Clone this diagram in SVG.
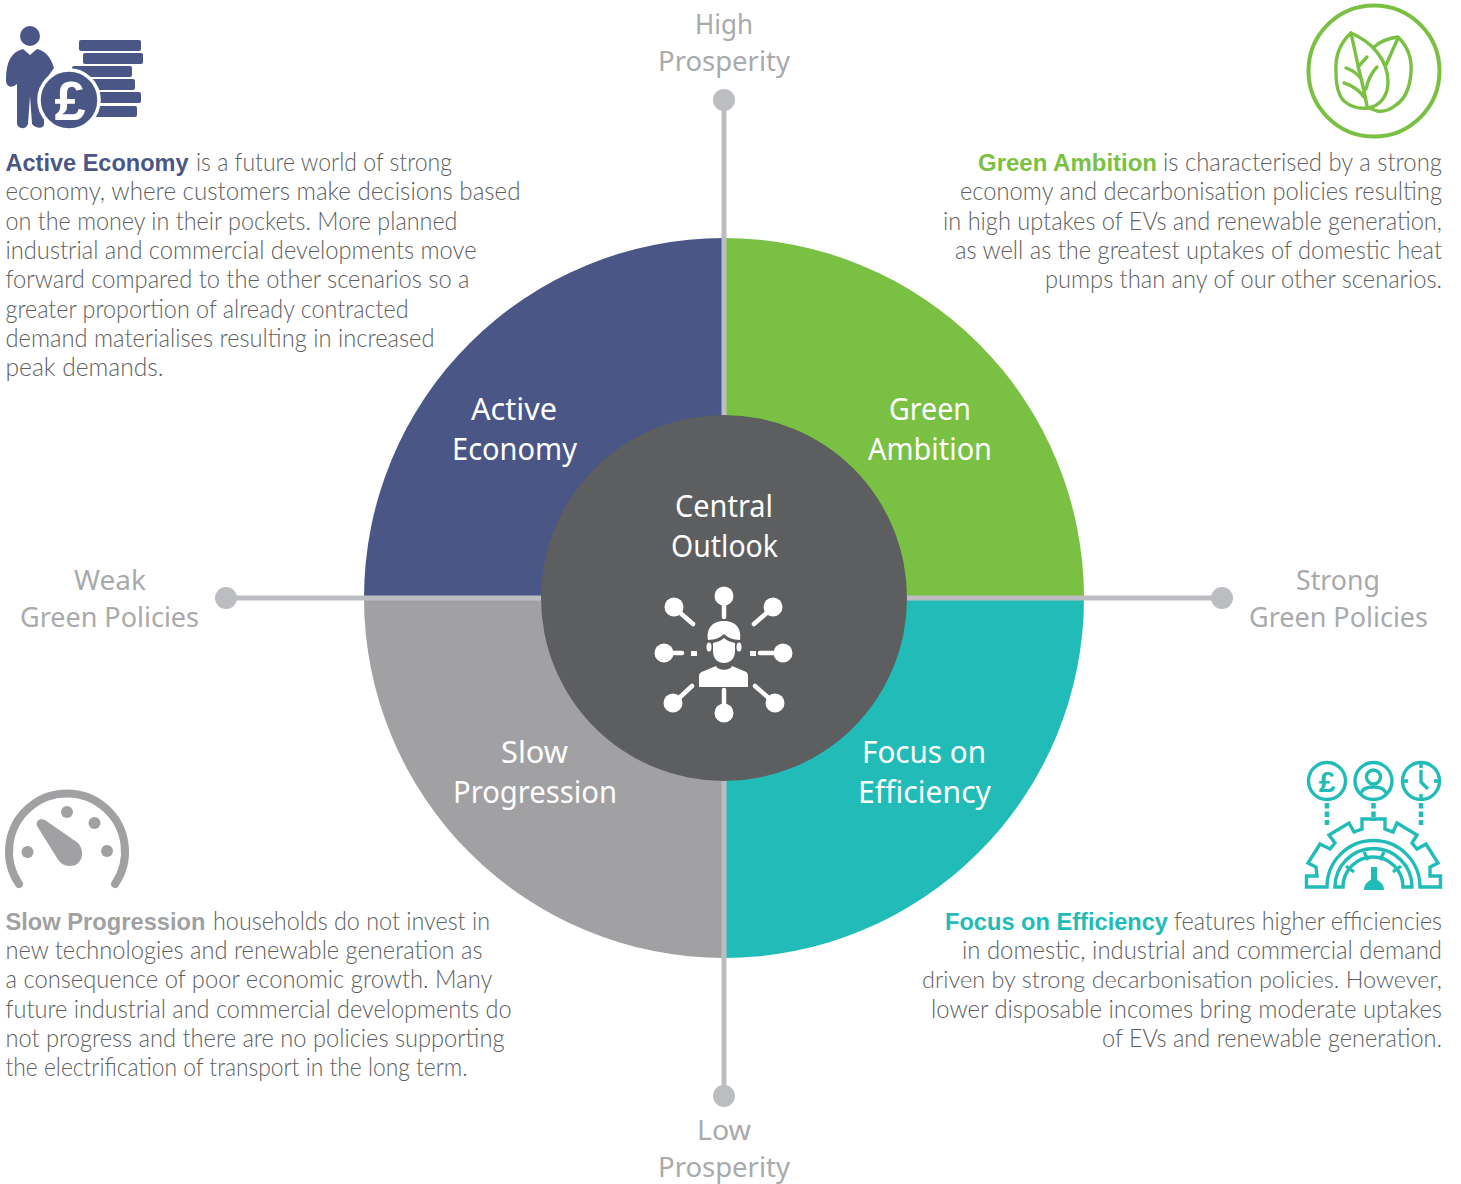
<svg xmlns="http://www.w3.org/2000/svg" width="1461" height="1184" viewBox="0 0 1461 1184">
<style>
.b{font-family:"Lato","Liberation Sans",sans-serif;font-weight:300;font-size:24.5px;fill:#5e5f61}
.h{font-family:"Liberation Sans",Arial,sans-serif;font-weight:700;font-size:24px}
.l{font-family:"Noto Sans","Open Sans",sans-serif;font-size:31px;fill:#fff;font-weight:400}
.a{font-family:"Noto Sans","Open Sans",sans-serif;font-size:28px;fill:#a9aaac;font-weight:400}
.ax{stroke:#bcbdc0;stroke-width:5;fill:none}
.dot{fill:#bcbdc0}
.w{fill:#fff;stroke:none}
.wl{stroke:#fff;stroke-width:4.5;stroke-linecap:round;fill:none}
.t{fill:none;stroke:#21bcb8;stroke-width:3.4}
.g{fill:none;stroke:#7ac143;stroke-linecap:round;stroke-linejoin:round}
</style>
<g id="quadrants">
<g id="active-economy"><path d="M364 598A360 360 0 0 1 724 238V598Z" fill="#4a5686"/>
<text class="l" x="471" y="420" textLength="86" lengthAdjust="spacingAndGlyphs">Active</text><text class="l" x="452" y="460" textLength="125" lengthAdjust="spacingAndGlyphs">Economy</text></g>
<g id="green-ambition"><path d="M724 238A360 360 0 0 1 1084 598H724Z" fill="#7ac143"/>
<text class="l" x="889" y="420" textLength="82" lengthAdjust="spacingAndGlyphs">Green</text><text class="l" x="868" y="460" textLength="124" lengthAdjust="spacingAndGlyphs">Ambition</text></g>
<g id="slow-progression"><path d="M364 598H724V958A360 360 0 0 1 364 598Z" fill="#a1a1a3"/>
<text class="l" x="501" y="763" textLength="67" lengthAdjust="spacingAndGlyphs">Slow</text><text class="l" x="453" y="803" textLength="164" lengthAdjust="spacingAndGlyphs">Progression</text></g>
<g id="focus-on-efficiency"><path d="M724 598H1084A360 360 0 0 1 724 958Z" fill="#21bcb8"/>
<text class="l" x="862" y="763" textLength="124" lengthAdjust="spacingAndGlyphs">Focus on</text><text class="l" x="858" y="803" textLength="133" lengthAdjust="spacingAndGlyphs">Efficiency</text></g>
</g>
<g id="connectors">
<path class="ax" d="M724 100V1096M226 598H1222"/>
<circle class="dot" cx="724" cy="100" r="11"/><circle class="dot" cx="724" cy="1096" r="11"/><circle class="dot" cx="226" cy="598" r="11"/><circle class="dot" cx="1222" cy="598" r="11"/>
</g>
<g id="central-outlook">
<circle cx="724" cy="598" r="183" fill="#5d5e60"/>
<text class="l" x="675" y="517" textLength="98" lengthAdjust="spacingAndGlyphs">Central</text><text class="l" x="671" y="557" textLength="107" lengthAdjust="spacingAndGlyphs">Outlook</text>
<g>
<circle class="w" cx="724" cy="596" r="9.5"/><circle class="w" cx="674" cy="607" r="9.5"/><circle class="w" cx="773" cy="607" r="9.5"/><circle class="w" cx="664" cy="653" r="9.5"/><circle class="w" cx="783" cy="653" r="9.5"/><circle class="w" cx="673" cy="703" r="9.5"/><circle class="w" cx="775" cy="703" r="9.5"/><circle class="w" cx="724" cy="713" r="9.5"/>
<path class="wl" d="M724 600V617M678 611L693 624M769 611L754 624M668 653H682M779 653H760M677 700L692 686M771 700L755 686M724 708V690"/>
<rect class="w" x="691" y="651" width="6" height="5"/><rect class="w" x="750" y="651" width="6" height="5"/>
<path class="w" d="M708 640C706 628 713 621 724 621C735 621 742 628 740 640C733 640 727 637 724 634C721 637 715 640 708 640Z"/>
<path class="w" d="M713 643C718 642 722 640 724 638C726 640 730 642 735 643V651C735 659 730 663 724 663C718 663 713 659 713 651Z"/>
<ellipse class="w" cx="709" cy="647" rx="2.500" ry="4.500"/><ellipse class="w" cx="739" cy="647" rx="2.500" ry="4.500"/>
<path class="w" d="M699 687V677C699 673 701 672 704 671L716 666C718 671 730 671 732 666L744 671C747 672 748 673 748 677V687Z"/>
</g>
</g>
<g id="axis-labels">
<text class="a" x="695" y="34" textLength="58" lengthAdjust="spacingAndGlyphs">High</text><text class="a" x="658" y="71" textLength="132" lengthAdjust="spacingAndGlyphs">Prosperity</text>
<text class="a" x="697" y="1140" textLength="54" lengthAdjust="spacingAndGlyphs">Low</text><text class="a" x="658" y="1177" textLength="132" lengthAdjust="spacingAndGlyphs">Prosperity</text>
<text class="a" x="74" y="590" textLength="72" lengthAdjust="spacingAndGlyphs">Weak</text><text class="a" x="20" y="627" textLength="179" lengthAdjust="spacingAndGlyphs">Green Policies</text>
<text class="a" x="1296" y="590" textLength="84" lengthAdjust="spacingAndGlyphs">Strong</text><text class="a" x="1249" y="627" textLength="179" lengthAdjust="spacingAndGlyphs">Green Policies</text>
</g>
<g id="icon-active" fill="#4a5686">
<circle cx="30" cy="36" r="10"/>
<rect x="79" y="40" width="62" height="11" rx="2"/><rect x="83" y="53" width="60" height="11" rx="2"/><rect x="72" y="66" width="60" height="11" rx="2"/><rect x="90" y="79" width="45" height="11" rx="2"/><rect x="95" y="92" width="46" height="11" rx="2"/><rect x="90" y="106" width="47" height="11" rx="2"/>
<path d="M23 49L30 55L37 49C46 51 51 58 54 68L44 82V124C44 129 36 129 32 124L30 96L28 124C26 130 18 129 17 124V84L14 86C9 88 6 85 6 80C6 62 11 52 23 49Z"/>
<circle cx="69" cy="100" r="30" stroke="#fff" stroke-width="3.5"/>
<text x="70" y="120" text-anchor="middle" font-family="Liberation Sans,sans-serif" font-weight="700" font-size="56" fill="#fff">£</text>
</g>
<g id="icon-green">
<circle class="g" cx="1374" cy="71" r="65.500" stroke-width="4"/>
<g class="g" stroke-width="3.400">
<path d="M1351 33C1339 44 1335 58 1336 72C1336 84 1338 95 1344 101C1351 107 1360 109 1368 108C1380 106 1388 96 1388 82C1388 60 1372 42 1351 33Z"/>
<path d="M1374 47C1381 41 1389 38 1398 37C1408 47 1412 60 1411 72C1410 88 1405 99 1396 105C1390 110 1383 112 1377 111L1369 108"/>
<path d="M1398 38L1386 65M1351 33L1359 70C1362 82 1365 95 1367 106M1367 57L1358 67M1377 67C1372 72 1368 80 1366 89M1346 68C1352 70 1358 74 1362 80M1344 83C1352 85 1360 91 1364 97"/>
</g>
</g>
<g id="icon-efficiency">
<g class="t">
<circle cx="1327" cy="781" r="18.500"/><circle cx="1373.500" cy="781" r="18.500"/><circle cx="1421" cy="781" r="18.500"/>
<circle cx="1373.500" cy="777" r="7"/><path d="M1361 793C1364 785 1383 785 1386 793"/>
<path d="M1421 764V768M1421 794V798M1404 781H1408M1434 781H1438M1421 770V782L1428 789"/>
<path d="M1306.500 887V876H1317L1316 867L1308 863L1320 844L1330 849L1335 843L1329 835L1349 823L1354 832L1362 829V819H1385V829L1393 832L1397 823L1417 835L1412 843L1417 849L1426 844L1438 863L1430 867V876H1440.500V887H1420A46 46 0 0 0 1327 887Z"/>
<path d="M1335 887A38.500 38.500 0 0 1 1412 887H1403A30 30 0 0 0 1343 887Z"/>
<path d="M1346 866L1354 872M1364 852L1368 860M1384 852L1380 860M1401 866L1393 872"/>
</g>
<path d="M1327 803V825M1373.500 803V821M1421 803V825" fill="none" stroke="#21bcb8" stroke-width="4.500" stroke-dasharray="5.500 3"/>
<text x="1327" y="792" text-anchor="middle" font-family="Liberation Sans,sans-serif" font-weight="700" font-size="30" fill="#21bcb8">£</text>
<path d="M1371 867H1377V879C1377 881 1384 882 1384 890H1364C1364 882 1371 881 1371 879Z" fill="#21bcb8"/>
</g>
<g id="icon-slow" fill="#a1a1a3">
<path d="M19 883A58 58 0 1 1 115 883" fill="none" stroke="#a1a1a3" stroke-width="8" stroke-linecap="round" transform="translate(0 1)"/>
<circle cx="27.500" cy="852" r="6"/><circle cx="67" cy="812" r="6"/><circle cx="94.500" cy="823" r="6"/><circle cx="107" cy="851" r="6"/>
<path d="M37 826C35 820 41 818 45 820L78 843C86 852 82 866 70 866C64 866 60 863 57 858Z"/>
</g>
<g id="text-active" class="b">
<text class="h" x="5.500" y="171" fill="#4a5686" textLength="183" lengthAdjust="spacingAndGlyphs">Active Economy</text>
<text x="196" y="171" textLength="256" lengthAdjust="spacingAndGlyphs">is a future world of strong</text>
<text x="5.500" y="200" textLength="515" lengthAdjust="spacingAndGlyphs">economy, where customers make decisions based</text>
<text x="5.500" y="230" textLength="452" lengthAdjust="spacingAndGlyphs">on the money in their pockets. More planned</text>
<text x="5.500" y="259" textLength="471" lengthAdjust="spacingAndGlyphs">industrial and commercial developments move</text>
<text x="5.500" y="288" textLength="464" lengthAdjust="spacingAndGlyphs">forward compared to the other scenarios so a</text>
<text x="5.500" y="318" textLength="403" lengthAdjust="spacingAndGlyphs">greater proportion of already contracted</text>
<text x="5.500" y="347" textLength="429" lengthAdjust="spacingAndGlyphs">demand materialises resulting in increased</text>
<text x="5.500" y="376" textLength="158" lengthAdjust="spacingAndGlyphs">peak demands.</text>
</g>
<g id="text-green" class="b">
<text class="h" x="978" y="171" fill="#7ac143" textLength="179" lengthAdjust="spacingAndGlyphs">Green Ambition</text>
<text x="1163" y="171" textLength="279" lengthAdjust="spacingAndGlyphs">is characterised by a strong</text>
<text x="960" y="200" textLength="482" lengthAdjust="spacingAndGlyphs">economy and decarbonisation policies resulting</text>
<text x="943" y="230" textLength="499" lengthAdjust="spacingAndGlyphs">in high uptakes of EVs and renewable generation,</text>
<text x="955" y="259" textLength="487" lengthAdjust="spacingAndGlyphs">as well as the greatest uptakes of domestic heat</text>
<text x="1045" y="288" textLength="397" lengthAdjust="spacingAndGlyphs">pumps than any of our other scenarios.</text>
</g>
<g id="text-slow" class="b">
<text class="h" x="5.500" y="930" fill="#a1a1a3" textLength="200" lengthAdjust="spacingAndGlyphs">Slow Progression</text>
<text x="213" y="930" textLength="277" lengthAdjust="spacingAndGlyphs">households do not invest in</text>
<text x="5.500" y="959" textLength="477" lengthAdjust="spacingAndGlyphs">new technologies and renewable generation as</text>
<text x="5.500" y="988" textLength="487" lengthAdjust="spacingAndGlyphs">a consequence of poor economic growth. Many</text>
<text x="5.500" y="1018" textLength="506" lengthAdjust="spacingAndGlyphs">future industrial and commercial developments do</text>
<text x="5.500" y="1047" textLength="499" lengthAdjust="spacingAndGlyphs">not progress and there are no policies supporting</text>
<text x="5.500" y="1076" textLength="462" lengthAdjust="spacingAndGlyphs">the electrification of transport in the long term.</text>
</g>
<g id="text-focus" class="b">
<text class="h" x="945" y="930" fill="#21bcb8" textLength="223" lengthAdjust="spacingAndGlyphs">Focus on Efficiency</text>
<text x="1174" y="930" textLength="268" lengthAdjust="spacingAndGlyphs">features higher efficiencies</text>
<text x="962" y="959" textLength="480" lengthAdjust="spacingAndGlyphs">in domestic, industrial and commercial demand</text>
<text x="922" y="988" font-size="24" style="font-size:24px" textLength="520" lengthAdjust="spacingAndGlyphs">driven by strong decarbonisation policies. However,</text>
<text x="931" y="1018" textLength="511" lengthAdjust="spacingAndGlyphs">lower disposable incomes bring moderate uptakes</text>
<text x="1102" y="1047" textLength="340" lengthAdjust="spacingAndGlyphs">of EVs and renewable generation.</text>
</g>
</svg>
